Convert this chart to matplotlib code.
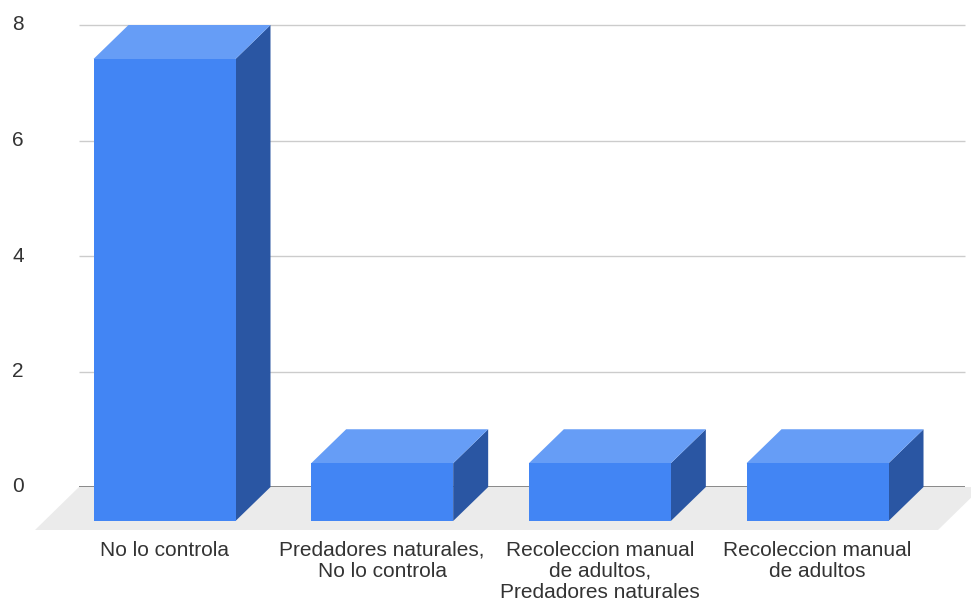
import matplotlib
matplotlib.use("Agg")
import matplotlib.pyplot as plt
from matplotlib.patches import Polygon
from matplotlib.transforms import ScaledTranslation, blended_transform_factory

categories = [
    "No lo controla",
    "Predadores naturales,\nNo lo controla",
    "Recoleccion manual\nde adultos,\nPredadores naturales",
    "Recoleccion manual\nde adultos",
]
values = [8, 1, 1, 1]
y_ticks = [0, 2, 4, 6, 8]

FRONT = "#4285f4"
TOP = "#669df6"
SIDE = "#2a56a3"
FLOOR = "#ebebeb"
TEXT = "#333333"

W, H, DPI = 971, 603, 100
fig = plt.figure(figsize=(W / DPI, H / DPI), dpi=DPI)
plt.rcParams["font.family"] = ["Liberation Sans", "DejaVu Sans"]

# axes spans the back plane of the chart (value 0 at y=487px, value 8 at y=25px)
left, right, bottom, top = 79, 965, 487, 25
ax = fig.add_axes([left / W, 1 - bottom / H, (right - left) / W, (bottom - top) / H])
ax.set_ylim(0, 8)
slot = 217.67
first = 199.5
ax.set_xlim(-(first - left) / slot, (right - first) / slot)
ax.axis("off")

# depth offset (pixels) between back and front planes
dx, dy = -35, -34
front_off = ax.transData + ScaledTranslation(dx / DPI, dy / DPI, fig.dpi_scale_trans)

# floor
fdx, fdy = -44, -43
floor_back = ax.transAxes
floor_front = ax.transAxes + ScaledTranslation(fdx / DPI, fdy / DPI, fig.dpi_scale_trans)
p_bl = floor_back.transform((0, 0))
p_br = floor_back.transform((1, 0)) + [17, 0]
p_fr = floor_front.transform((1, 0)) + [17, 0]
p_fl = floor_front.transform((0, 0))
floor = Polygon([p_bl, p_br, p_fr, p_fl], closed=True, transform=None,
                facecolor=FLOOR, edgecolor="none", zorder=0)
fig.patches.append(floor)

# gridlines and value labels
ylab_tr = blended_transform_factory(fig.transFigure, ax.transData)
for t in y_ticks:
    ax.plot([0, 1], [t, t], transform=blended_transform_factory(ax.transAxes, ax.transData),
            color="#888888" if t == 0 else "#cccccc", lw=1.4 if t == 0 else 1.0,
            zorder=1, clip_on=False, solid_capstyle="butt")
    fig.text(18 / W, t, str(t), transform=ylab_tr,
             ha="center", va="center", fontsize=15, color=TEXT)

bw = 142 / slot
for i, v in enumerate(values):
    x0, x1 = i - bw / 2, i + bw / 2
    back = ax.transData
    b = lambda x, y: back.transform((x, y))
    f = lambda x, y: front_off.transform((x, y))
    top_face = [f(x0, v), f(x1, v), b(x1, v), b(x0, v)]
    side_face = [f(x1, 0), f(x1, v), b(x1, v), b(x1, 0)]
    front_face = [f(x0, 0), f(x1, 0), f(x1, v), f(x0, v)]
    for pts, c in ((side_face, SIDE), (top_face, TOP), (front_face, FRONT)):
        fig.patches.append(Polygon(pts, closed=True, transform=None, facecolor=c,
                                   edgecolor="none", zorder=3))

# category labels under the front faces
lab_tr = blended_transform_factory(front_off, fig.transFigure)
for i, c in enumerate(categories):
    ax.text(i, 1 - 541 / H, c, transform=lab_tr, ha="center", va="top",
            fontsize=15, color=TEXT, linespacing=1.13, clip_on=False)

fig.savefig("out.png", dpi=DPI)
